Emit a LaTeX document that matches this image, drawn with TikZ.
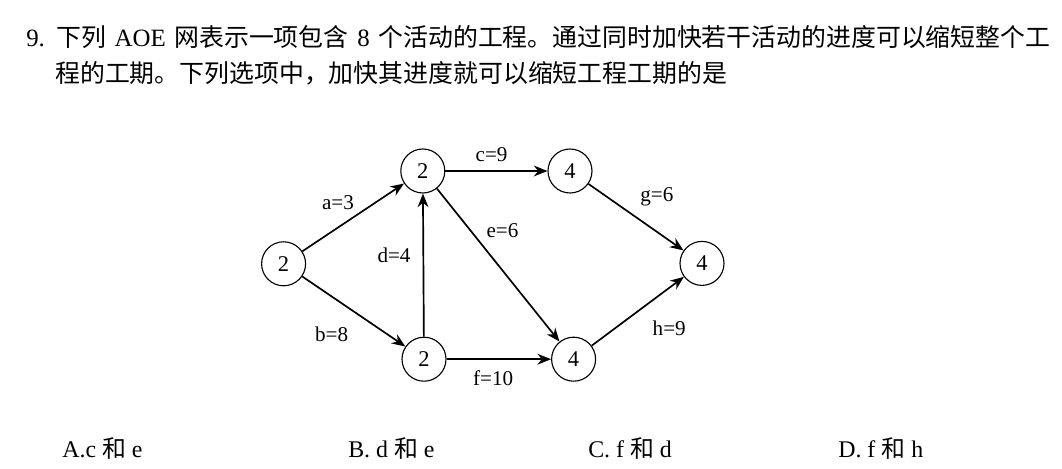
\documentclass[tikz,border=0pt]{standalone}
\usepackage{fontspec}
\setmainfont{Liberation Serif}
\newfontfamily\cjk{Noto Sans CJK SC}
\usetikzlibrary{arrows.meta}

\begin{document}
\begin{tikzpicture}[
  event/.style={circle, draw, line width=0.8pt, minimum size=1.1cm, inner sep=0,
    font=\fontsize{16}{18}\selectfont},
  act/.style={-{Stealth[length=3.4mm, width=2.7mm]}, line width=1.2pt},
  lbl/.style={inner sep=0, font=\fontsize{15}{17}\selectfont},
  txt/.style={anchor=base west, inner sep=0, font=\fontsize{17.7}{21}\selectfont},
  opt/.style={anchor=base west, inner sep=0, font=\fontsize{17}{20}\selectfont}]

  \useasboundingbox (0,0) rectangle (26.55,11.725);

  % The question
  \node[txt] (line1) at (0.65, 10.55) {9.\hspace{0.45em}{\cjk 下列}\hspace{0.35em}AOE\hspace{0.35em}{\cjk 网表示一项包含}\hspace{0.35em}8\hspace{0.35em}{\cjk 个活动的工程。通过同时加快若干活动的进度可以缩短整个工}};
  \node[txt] (line2) at (1.375, 9.65) {\cjk 程的工期。下列选项中，加快其进度就可以缩短工程工期的是};

  % The events
  \node[event] (v1) at (7.09, 5.13) {2};
  \node[event] (v2) at (10.57, 7.45) {2};
  \node[event] (v3) at (10.6, 2.745) {2};
  \node[event] (v4) at (14.25, 7.45) {4};
  \node[event] (v5) at (14.34, 2.745) {4};
  \node[event] (v6) at (17.55, 5.14) {4};

  % The activities
  \draw[act] (v1) -- (v2);
  \draw[act] (v1) -- (v3);
  \draw[act] (v2) -- (v4);
  \draw[act] (v2) -- (v5);
  \draw[act] (v3) -- (v2);
  \draw[act] (v3) -- (v5);
  \draw[act] (v4) -- (v6);
  \draw[act] (v5) -- (v6);

  % Their durations
  \node[lbl] (la) at (8.45, 6.65) {a=3};
  \node[lbl] (lb) at (8.29, 3.38) {b=8};
  \node[lbl] (lc) at (12.29, 7.85) {c=9};
  \node[lbl] (ld) at (9.85, 5.35) {d=4};
  \node[lbl] (le) at (12.56, 5.96) {e=6};
  \node[lbl] (lf) at (12.33, 2.28) {f=10};
  \node[lbl] (lg) at (16.42, 6.81) {g=6};
  \node[lbl] (lh) at (16.73, 3.53) {h=9};

  % The choices
  \node[opt] (optA) at (1.55, 0.275) {A.c {\cjk 和} e};
  \node[opt] (optB) at (8.7, 0.275) {B. d {\cjk 和} e};
  \node[opt] (optC) at (14.7, 0.275) {C. f {\cjk 和} d};
  \node[opt] (optD) at (20.95, 0.275) {D. f {\cjk 和} h};

\end{tikzpicture}
\end{document}
